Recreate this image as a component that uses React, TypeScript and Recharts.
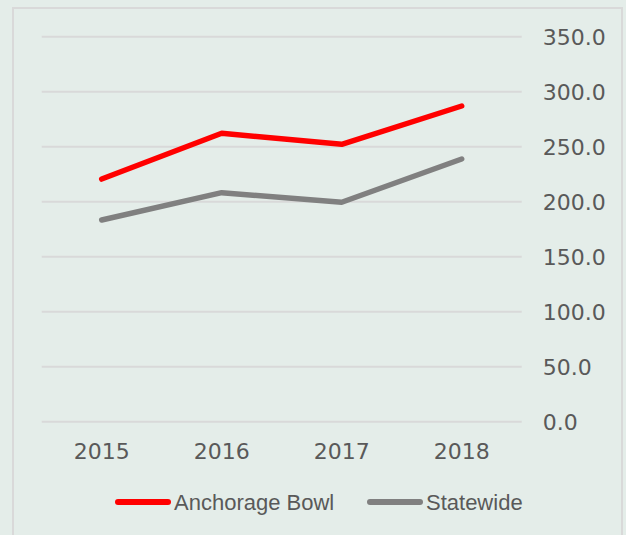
import React from "react";
import { LineChart, Line, XAxis, YAxis, CartesianGrid } from "recharts";

const years = ["2015", "2016", "2017", "2018"];
const anchorageBowl = [220.6, 262.2, 252.2, 287.0];
const statewide = [183.4, 208.2, 199.5, 238.8];
const yTicks = [0, 50, 100, 150, 200, 250, 300, 350];

const data = years.map((y, i) => ({
  year: y,
  anchorage: anchorageBowl[i],
  statewide: statewide[i],
}));

const BG = "#e4ede9";
const GRID = "#d9d9d9";
const TEXT = "#595959";
const RED = "#ff0000";
const GRAY = "#808080";

export default function App() {
  return (
    <div
      style={{
        position: "absolute",
        left: 0,
        top: 0,
        width: 626,
        height: 535,
        background: BG,
        overflow: "hidden",
      }}
    >
      <div
        style={{
          position: "absolute",
          left: 12,
          top: 7,
          width: 611,
          height: 560,
          border: `2px solid ${GRID}`,
          boxSizing: "border-box",
        }}
      />
      <div style={{ position: "absolute", left: 0, top: 0 }}>
        <LineChart
          width={626}
          height={535}
          data={data}
          margin={{ top: 36.7, right: 24.3, bottom: 83.3, left: 41.7 }}
        >
          <CartesianGrid vertical={false} stroke={GRID} strokeWidth={2} />
          <XAxis
            dataKey="year"
            axisLine={false}
            tickLine={false}
            tickSize={0}
            tickMargin={22}
            height={30}
            padding={{ left: 60, right: 60 }}
            tick={{ fill: TEXT, fontSize: 22, fontFamily: "DejaVu Sans" }}
          />
          <YAxis
            orientation="right"
            width={80}
            domain={[0, 350]}
            ticks={yTicks}
            interval={0}
            axisLine={false}
            tickLine={false}
            tickSize={0}
            tickMargin={21}
            tickFormatter={(v: number) => v.toFixed(1)}
            tick={{ fill: TEXT, fontSize: 22, fontFamily: "DejaVu Sans", textAnchor: "start" }}
          />
          <Line
            dataKey="anchorage"
            name="Anchorage Bowl"
            stroke={RED}
            strokeWidth={5.5}
            strokeLinecap="round"
            strokeLinejoin="round"
            dot={false}
            activeDot={false}
            isAnimationActive={false}
          />
          <Line
            dataKey="statewide"
            name="Statewide"
            stroke={GRAY}
            strokeWidth={5.5}
            strokeLinecap="round"
            strokeLinejoin="round"
            dot={false}
            activeDot={false}
            isAnimationActive={false}
          />
        </LineChart>
      </div>
      <svg
        width={626}
        height={535}
        style={{ position: "absolute", left: 0, top: 0, pointerEvents: "none" }}
      >
        <line x1={118} y1={502} x2={168} y2={502} stroke={RED} strokeWidth={6} strokeLinecap="round" />
        <text x={174} y={510} fill={TEXT} fontSize={22} fontFamily="Liberation Sans">
          Anchorage Bowl
        </text>
        <line x1={370} y1={502} x2={420} y2={502} stroke={GRAY} strokeWidth={6} strokeLinecap="round" />
        <text x={426} y={510} fill={TEXT} fontSize={22} fontFamily="Liberation Sans">
          Statewide
        </text>
      </svg>
    </div>
  );
}
